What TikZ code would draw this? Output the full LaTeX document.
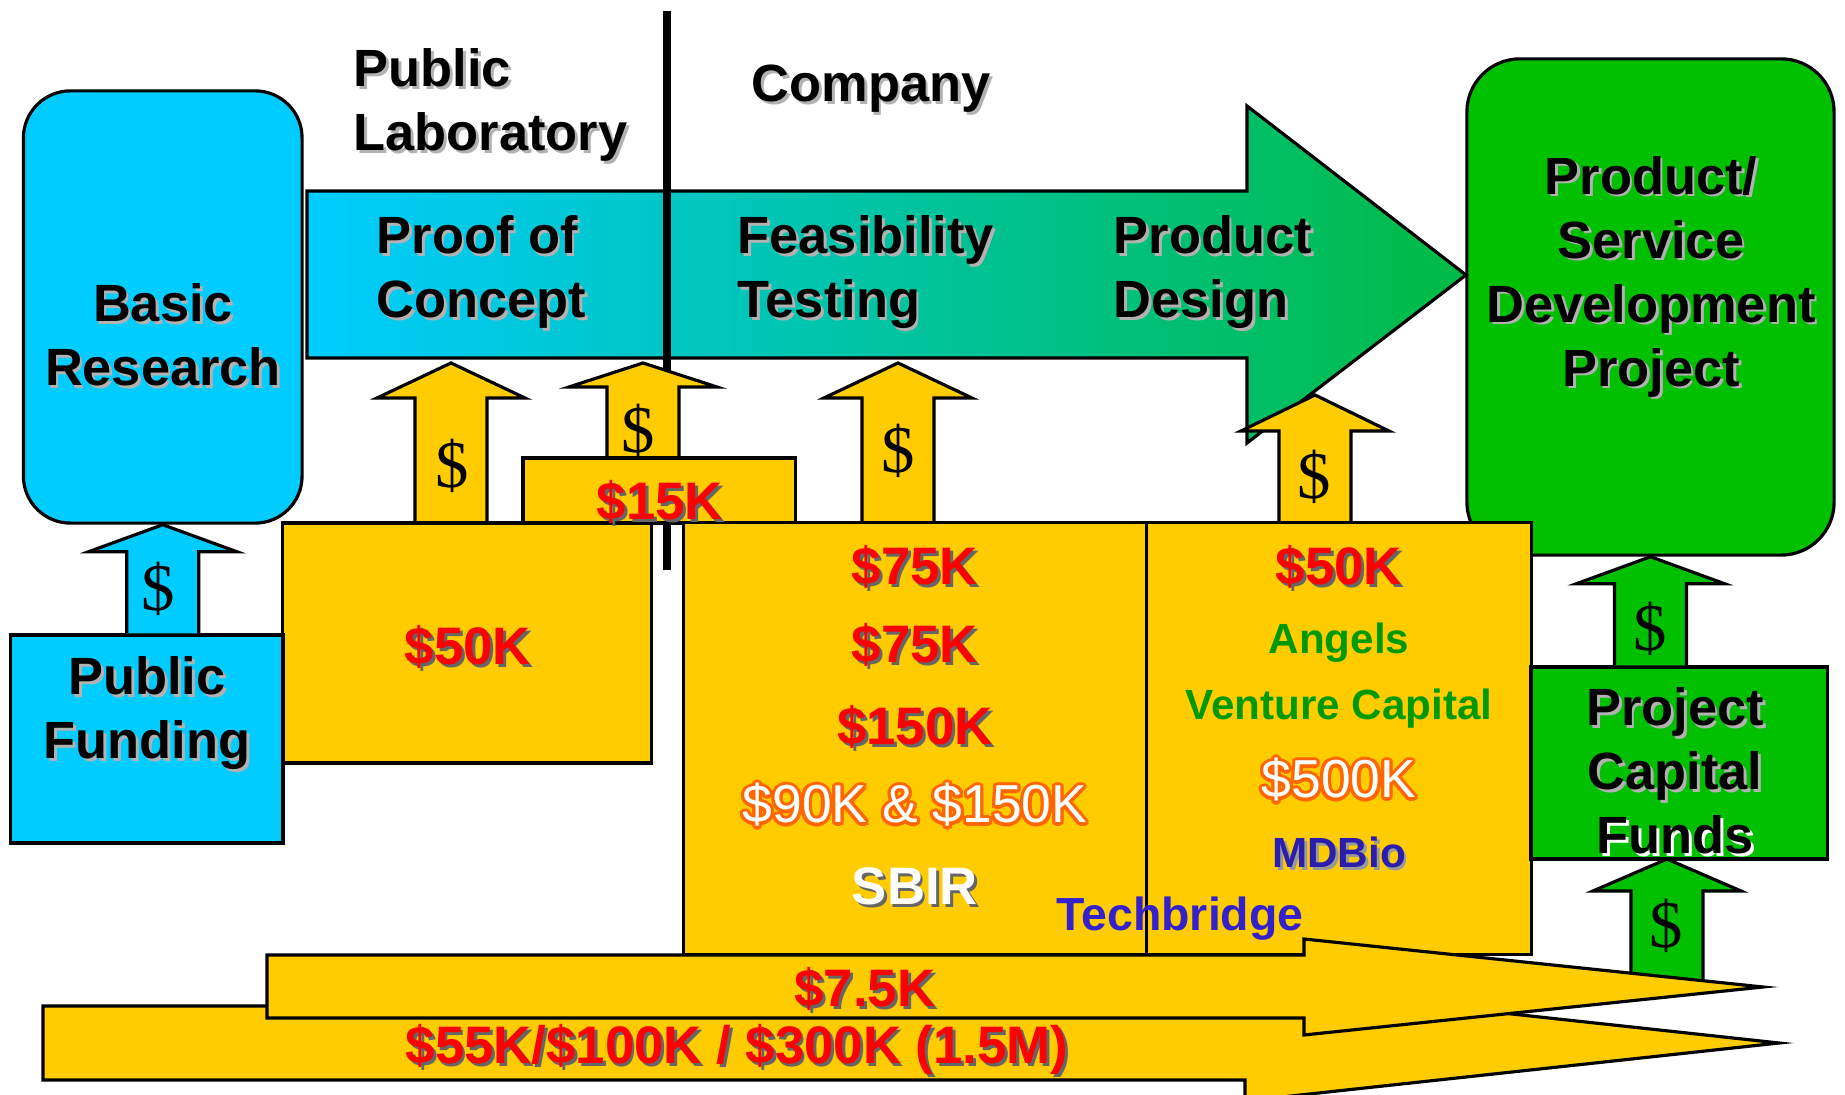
\documentclass[tikz,border=0pt]{standalone}
\usepackage{fontspec}
\setmainfont{Liberation Sans}
\newfontfamily\dollarfont{Liberation Serif}
\usepackage{contour}
\contourlength{0.9pt}
\usetikzlibrary{calc}

\definecolor{cyanfill}{RGB}{0,204,255}
\definecolor{goldfill}{RGB}{255,204,0}
\definecolor{greenfill}{RGB}{0,192,0}
\definecolor{arrowgreen}{RGB}{0,187,68}
\definecolor{amtred}{RGB}{255,0,0}
\definecolor{fundgreen}{RGB}{0,153,0}
\definecolor{fundblue}{RGB}{51,34,204}
\definecolor{outorange}{RGB}{255,102,0}

% text with a small drop shadow
\newcommand{\shd}[2][black!30]{\makebox[0pt][l]{\hspace{0.8pt}\raisebox{-0.8pt}{\textcolor{#1}{#2}}}#2}

% fat arrow pointing up: style, foot, tip, head length
\newcommand{\fatup}[4]{%
  \draw[#1] let \p1=(#2), \p2=(#3) in
    (\x1-0.36cm,\y1) -- (\x1-0.36cm,\y2-#4) -- (\x1-0.74cm,\y2-#4)
    -- (\x1,\y2) -- (\x1+0.74cm,\y2-#4) -- (\x1+0.36cm,\y2-#4) -- (\x1+0.36cm,\y1);
}

\tikzset{
  box/.style={draw, line width=0.9pt, inner sep=0pt},
  goldbox/.style={box, fill=goldfill},
  goldarr/.style={draw, line width=0.9pt, fill=goldfill},
  bluearr/.style={draw, line width=0.9pt, fill=cyanfill},
  greenarr/.style={draw, line width=0.9pt, fill=greenfill},
  flowarrow/.style={draw, line width=0.9pt, left color=cyanfill, right color=arrowgreen},
  divider/.style={line width=2pt},
  lbl/.style={font=\bfseries\fontsize{14.9}{18.2}\selectfont, align=center, inner sep=0pt},
  amt/.style={font=\bfseries\fontsize{15}{18}\selectfont, text=amtred, inner sep=0pt, anchor=base},
  plainamt/.style={amt, font=\fontsize{15.2}{18}\selectfont, text=white},
  fundtxt/.style={amt, font=\bfseries\fontsize{12}{14}\selectfont},
  dollar/.style={font=\dollarfont\fontsize{19}{19}\selectfont, inner sep=0pt}
}

\begin{document}
\begin{tikzpicture}[x=0.01cm, y=-0.01cm]
    \useasboundingbox (0,0) rectangle (1845,1095);

    % end boxes
    \node[box, fill=greenfill, rounded corners=0.53cm, minimum width=3.67cm, minimum height=4.96cm] (prodbox) at (1650.5,307) {};
    \draw[flowarrow] (307,191) -- (1247,191) -- (1247,106) -- (1466,275) -- (1247,443) -- (1247,358) -- (307,358) -- cycle;
    \node[box, fill=cyanfill, rounded corners=0.47cm, minimum width=2.785cm, minimum height=4.32cm] (basic) at (162.75,307) {};

    % lab / company divider
    \coordinate (divtop) at (667,11);
    \coordinate (divbot) at (667,570);
    \draw[divider] (divtop) -- (divbot);

    % money going up into the stages
    \fatup{goldarr}{451,522}{451,363}{0.35cm}
    \fatup{goldarr}{643,458}{643,363}{0.24cm}
    \fatup{goldarr}{898,522}{898,363}{0.35cm}
    \fatup{goldarr}{1315,522}{1315,395}{0.36cm}

    \node[goldbox, minimum width=2.72cm, minimum height=0.65cm] (box15) at (659,490.5) {};
    \node[goldbox, minimum width=3.68cm, minimum height=2.4cm] (box50) at (467,643) {};
    \node[goldbox, minimum width=4.635cm, minimum height=4.31cm] (sbirbox) at (915.25,738.5) {};
    \node[goldbox, minimum width=3.84cm, minimum height=4.31cm] (angelbox) at (1339,738.5) {};

    % funding sources on the sides
    \node[box, fill=cyanfill, minimum width=2.724cm, minimum height=2.08cm] (pubfund) at (146.8,739) {};
    \fatup{bluearr}{basic.south |- pubfund.north}{basic.south}{0.27cm}
    \node[box, fill=greenfill, minimum width=2.96cm, minimum height=1.92cm] (pcf) at (1679,763) {};
    \fatup{greenarr}{prodbox.south |- pcf.north}{prodbox.south}{0.27cm}
    \fatup{greenarr}{1667,985}{1667,859}{0.32cm}

    % long programmes along the bottom
    \draw[goldarr] (43,1006) -- (1245,1006) -- (1245,985) -- (1779,1043) -- (1245,1101) -- (1245,1080) -- (43,1080) -- cycle;
    \draw[goldarr] (267,955) -- (1304,955) -- (1304,939) -- (1763,987) -- (1304,1035) -- (1304,1018) -- (267,1018) -- cycle;

    % labels
    \node[lbl, anchor=west, align=left] (publab) at (353,106.5) {\shd{Public}\\\shd{Laboratory}};
    \node[lbl, anchor=west] (company) at (751,90) {\shd{Company}};
    \node[lbl] (basictxt) at (163,336.5) {\shd{Basic}\\\shd{Research}};
    \node[lbl, anchor=west, align=left] (poc) at (376,273.5) {\shd{Proof of}\\\shd{Concept}};
    \node[lbl, anchor=west, align=left] (feas) at (737,273.5) {\shd{Feasibility}\\\shd{Testing}};
    \node[lbl, anchor=west, align=left] (design) at (1113,273.5) {\shd{Product}\\\shd{Design}};
    \node[lbl] (prodtxt) at (1651,278) {\shd{Product/}\\\shd{Service}\\\shd{Development}\\\shd{Project}};
    \node[lbl] (pubtxt) at (147,714.5) {\shd{Public}\\\shd{Funding}};
    \node[lbl] (pcftxt) at (1675,772.5) {\shd{Project}\\\shd{Capital}\\\shd[white]{Funds}};

    % dollar signs
    \node[dollar] (d1) at (452,466) {\$};
    \node[dollar] (d2) at (638,431) {\$};
    \node[dollar] (d3) at (898,451) {\$};
    \node[dollar] (d4) at (1314,477) {\$};
    \node[dollar] (d5) at (158,589) {\$};
    \node[dollar] (d6) at (1650,629) {\$};
    \node[dollar] (d7) at (1666,926) {\$};

    % amounts
    \node[amt] (a15) at (660,520) {\shd[black!60]{\$15K}};
    \node[amt] (a50l) at (468,665) {\shd[black!60]{\$50K}};
    \node[amt] (a75a) at (915,585) {\shd[black!60]{\$75K}};
    \node[amt] (a75b) at (915,663) {\shd[black!60]{\$75K}};
    \node[amt] (a150) at (915,745) {\shd[black!60]{\$150K}};
    \node[plainamt] (a90) at (915,823) {\contour{outorange}{\$90K \& \$150K}};
    \node[amt, text=white] (sbir) at (915,905) {\shd[black!60]{SBIR}};
    \node[amt] (a50r) at (1339,585) {\shd[black!60]{\$50K}};
    \node[fundtxt, text=fundgreen] (angels) at (1339,654) {Angels};
    \node[fundtxt, text=fundgreen] (vc) at (1339,720) {Venture Capital};
    \node[plainamt] (a500) at (1339,798) {\contour{outorange}{\$500K}};
    \node[fundtxt, text=fundblue!85!black] (mdbio) at (1339,868) {\shd[black!40]{MDBio}};
    \node[amt, anchor=base west, font=\bfseries\fontsize{13.2}{16}\selectfont, text=fundblue] (techb) at (1056,931) {Techbridge};
    \node[amt] (a7k) at (865,1007) {\shd[black!60]{\$7.5K}};
    \node[amt] (abot) at (737,1063.5) {\shd[black!60]{\$55K/\$100K / \$300K (1.5M)}};
\end{tikzpicture}
\end{document}
